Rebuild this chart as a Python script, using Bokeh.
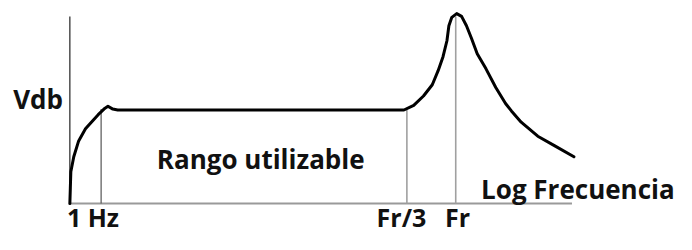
from bokeh.plotting import figure
from bokeh.models import Range1d
from bokeh.core.properties import value
from bokeh.embed import file_html
from bokeh.resources import INLINE

# Response curve: x = log-frequency position, y = level (dB-like units)
curve_x = [0, 0.5, 1, 4, 9, 16, 22, 29, 36, 39, 44, 49, 342, 352, 362, 371, 377,
           382, 386, 388, 391, 396, 401, 406, 411, 417, 426, 436, 446, 452, 462,
           479, 496, 516]
curve_y = [0, 17, 34, 50, 67, 80, 87, 95, 102, 104, 101, 100, 100, 105, 115, 127,
           142, 157, 174, 190, 199, 203, 200, 190, 177, 160, 144, 124, 107, 99,
           87, 72, 62, 50]

# Marker positions (1 Hz, Fr/3, Fr) and the curve level there
marker_x = [32, 345, 395]
marker_top = [101, 100, 200]
marker_labels = ["1 Hz", "Fr/3", "Fr"]
marker_label_x = [-3, 314, 384]

# Axis extents
x_axis_end = 514
y_axis_top = 200

FONT = value("Open Sans")

p = figure(width=676, height=234, output_backend="svg", toolbar_location=None,
           x_range=Range1d(-71, 621), y_range=Range1d(-33, 217),
           min_border=0, outline_line_color=None)
p.axis.visible = False
p.grid.visible = False
p.background_fill_color = "white"
p.border_fill_color = "white"

# axes
p.segment(x0=[0], y0=[0], x1=[0], y1=[y_axis_top], line_color="#222222", line_width=1.2)
p.segment(x0=[0], y0=[0], x1=[x_axis_end], y1=[0], line_color="#9a9a9a", line_width=2)

# vertical markers
p.segment(x0=marker_x[:1], y0=[0], x1=marker_x[:1], y1=marker_top[:1],
          line_color="#555555", line_width=1.2)
p.segment(x0=marker_x[1:], y0=[0, 0], x1=marker_x[1:], y1=marker_top[1:],
          line_color="#a0a0a0", line_width=1.6)

# curve
p.line(curve_x, curve_y, line_color="black", line_width=3, line_join="round", line_cap="round")

# texts
common = dict(text_font=FONT, text_font_style="bold", text_font_size="26px",
              text_color="#111111", text_baseline="alphabetic", text_align="left")
p.text(x=[-58], y=[112], text=["Vdb"], **common)
p.text(x=[89], y=[48], text=["Rango utilizable"], **common)
p.text(x=[421], y=[16], text=["Log Frecuencia"], **common)
bottom = dict(common, text_font_size="25px")
p.text(x=marker_label_x, y=[-14, -14, -14], text=marker_labels, **bottom)

open("out.html", "w").write(file_html(p, INLINE))
